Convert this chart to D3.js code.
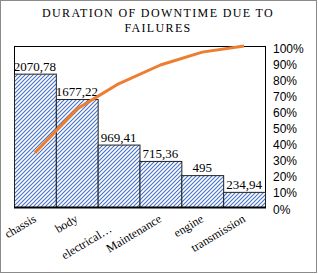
<!DOCTYPE html>
<html lang="en">
<head>
<meta charset="UTF-8">
<title>Duration of downtime due to failures</title>
<script src="https://cdn.jsdelivr.net/npm/d3@7"></script>
<style>
    body { margin: 0; background: #fff; }
    svg { display: block; font-family: "Liberation Serif", "Times New Roman", serif; }
    .axis text { font-size: 12px; fill: #000; }
</style>
</head>
<body>
<svg width="318" height="274"></svg>
<script>
    // chart data
    const categories = ["chassis", "body", "electrical…", "Maintenance", "engine", "transmission"];
    const durations = [2070.78, 1677.22, 969.41, 715.36, 495, 234.94];
    const cumulative = [0.336, 0.608, 0.765, 0.882, 0.962, 1.0];
    const percentTicks = [0, 0.1, 0.2, 0.3, 0.4, 0.5, 0.6, 0.7, 0.8, 0.9, 1.0];
    const titleLines = ["DURATION OF DOWNTIME DUE TO", "FAILURES"];

    const svg = d3.select("svg");
    const plot = { left: 14, right: 265, top: 46, bottom: 207 };

    // comma as decimal separator
    const fmt = d3.formatLocale({ decimal: ",", thousands: "", grouping: [3], currency: ["", ""] }).format(".2~f");

    // outer chart border
    svg.append("rect")
        .attr("x", 0.5).attr("y", 0.5)
        .attr("width", 316).attr("height", 272)
        .attr("fill", "#fff")
        .attr("stroke", "#8a8a8a");

    // hatch pattern for bars
    const pat = svg.append("defs").append("pattern")
        .attr("id", "hatch")
        .attr("patternUnits", "userSpaceOnUse")
        .attr("width", 4).attr("height", 4);
    pat.append("rect").attr("width", 4).attr("height", 4).attr("fill", "#fff");
    pat.append("path")
        .attr("d", "M-1,1 l2,-2 M0,4 l4,-4 M3,5 l2,-2")
        .attr("stroke", "#4472c4")
        .attr("stroke-width", 1.1);

    // title
    svg.append("text")
        .attr("text-anchor", "middle")
        .attr("font-size", 12)
        .attr("letter-spacing", 1.35)
        .selectAll("tspan")
        .data(titleLines)
        .join("tspan")
        .attr("x", 158)
        .attr("y", (d, i) => 17 + i * 14.5)
        .text(d => d);

    const x = d3.scaleBand().domain(categories).range([plot.left, plot.right]).padding(0);
    const y = d3.scaleLinear().domain([0, 2500]).range([plot.bottom, plot.top]);
    const y2 = d3.scaleLinear().domain([0, 1]).range([plot.bottom, plot.top]);

    // plot area frame
    svg.append("rect")
        .attr("x", plot.left + 0.5).attr("y", plot.top + 0.5)
        .attr("width", plot.right - plot.left).attr("height", plot.bottom - plot.top)
        .attr("fill", "none")
        .attr("stroke", "#000");

    // bars
    svg.append("g")
        .selectAll("rect")
        .data(durations)
        .join("rect")
        .attr("x", (d, i) => x(categories[i]) + 0.5)
        .attr("y", d => y(d) + 0.5)
        .attr("width", x.bandwidth())
        .attr("height", d => y(0) - y(d))
        .attr("fill", "url(#hatch)")
        .attr("stroke", "#222")
        .attr("stroke-width", 1);

    // bar value labels
    svg.append("g")
        .selectAll("text")
        .data(durations)
        .join("text")
        .attr("x", (d, i) => x(categories[i]) + x.bandwidth() / 2)
        .attr("y", d => y(d) - 3)
        .attr("text-anchor", "middle")
        .attr("font-size", 13)
        .text(d => fmt(d));

    // category axis line
    svg.append("line")
        .attr("x1", plot.left).attr("x2", plot.right + 1)
        .attr("y1", plot.bottom + 0.5).attr("y2", plot.bottom + 0.5)
        .attr("stroke", "#000")
        .attr("stroke-width", 2);

    // rotated category labels (the truncated one sits lower, as in Excel)
    svg.append("g")
        .attr("class", "axis")
        .selectAll("text")
        .data(categories)
        .join("text")
        .attr("transform", d => {
            const cx = x(d) + x.bandwidth() / 2 + 2;
            const shift = d.endsWith("…") ? [-8, 10] : [0, 0];
            return `translate(${cx + shift[0]},${221 + shift[1]}) rotate(-31)`;
        })
        .attr("text-anchor", "end")
        .text(d => d);

    // cumulative line
    const line = d3.line()
        .x((d, i) => x(categories[i]) + x.bandwidth() / 2)
        .y(d => y2(d));

    svg.append("path")
        .datum(cumulative)
        .attr("d", line)
        .attr("fill", "none")
        .attr("stroke", "#ed7d31")
        .attr("stroke-width", 3)
        .attr("stroke-linejoin", "round");

    // secondary percent axis
    svg.append("g")
        .attr("class", "axis")
        .attr("transform", `translate(${plot.right},0)`)
        .call(d3.axisRight(y2).tickValues(percentTicks).tickFormat(d3.format(".0%")).tickSize(0).tickPadding(8))
        .call(g => g.select(".domain").remove())
        .call(g => g.selectAll("text")
            .attr("font-family", null)
            .attr("font-size", null)
            .attr("dy", "0.5em"));
</script>
</body>
</html>
